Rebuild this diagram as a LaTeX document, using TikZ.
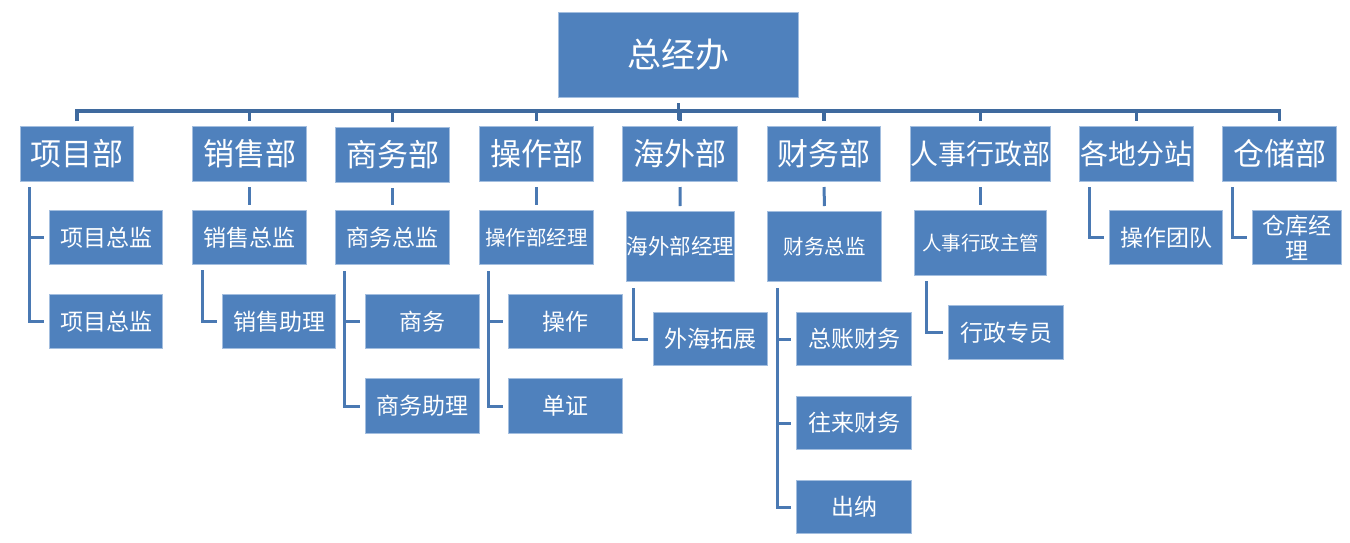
\documentclass[tikz,border=0pt]{standalone}
\usepackage{fontspec}
\setmainfont{Noto Sans CJK SC}
\usetikzlibrary{calc}
\definecolor{boxfill}{HTML}{4F81BD}
\definecolor{boxline}{HTML}{A3BEDF}
\definecolor{busc}{HTML}{3F6A9E}
\definecolor{connc}{HTML}{4A79B3}
\tikzset{
  obox/.style n args={2}{draw=boxline, fill=boxfill, text=white, line width=1pt,
    anchor=north west, inner sep=0pt, minimum width=#1pt, minimum height=#2pt, align=center},
  rootf/.style={font=\fontsize{34}{38}\selectfont},
  deptf/.style={font=\fontsize{31}{34}\selectfont},
  deptsf/.style={font=\fontsize{28}{32}\selectfont},
  subf/.style={font=\fontsize{23}{26}\selectfont},
  subsf/.style={font=\fontsize{20.5}{24}\selectfont},
  busline/.style={draw=busc, line width=3.2pt},
  conn/.style={draw=connc, line width=3pt},
}
\begin{document}
\begin{tikzpicture}[x=1pt,y=-1pt]
\useasboundingbox (0,0) rectangle (1350,542);
% root
\node[obox={240}{85}, rootf] (root) at (558,12) {总经办};
% departments
\node[obox={113}{55}, deptf] (d1) at (20,126) {项目部};
\node[obox={114}{55}, deptf] (d2) at (192,126) {销售部};
\node[obox={114}{55}, deptf] (d3) at (335,127) {商务部};
\node[obox={114}{55}, deptf] (d4) at (479,126) {操作部};
\node[obox={115}{55}, deptf] (d5) at (622,126) {海外部};
\node[obox={113}{55}, deptf] (d6) at (767,126) {财务部};
\node[obox={140}{55}, deptsf] (d7) at (910,126) {人事行政部};
\node[obox={114}{55}, deptsf] (d8) at (1079,126) {各地分站};
\node[obox={114}{55}, deptf] (d9) at (1222,126) {仓储部};
% level 2
\node[obox={113}{54}, subf] (a1) at (49,210) {项目总监};
\node[obox={113}{54}, subf] (a2) at (49,294) {项目总监};
\node[obox={114}{54}, subf] (b1) at (192,210) {销售总监};
\node[obox={113}{54}, subf] (b2) at (222,294) {销售助理};
\node[obox={114}{54}, subf] (c1) at (335,210) {商务总监};
\node[obox={114}{54}, subf] (c2) at (365,294) {商务};
\node[obox={114}{55}, subf] (c3) at (365,378) {商务助理};
\node[obox={114}{54}, subsf] (e1) at (479,210) {操作部经理};
\node[obox={114}{54}, subf] (e2) at (508,294) {操作};
\node[obox={114}{55}, subf] (e3) at (508,378) {单证};
\node[obox={107}{70}, font=\fontsize{21.5}{24}\selectfont] (f1) at (626,211) {海外部经理};
\node[obox={114}{53}, subf] (f2) at (653,312) {外海拓展};
\node[obox={114}{70}, subsf] (g1) at (767,211) {财务总监};
\node[obox={115}{53}, subf] (g2) at (796,312) {总账财务};
\node[obox={115}{53}, subf] (g3) at (796,396) {往来财务};
\node[obox={115}{53}, subf] (g4) at (796,480) {出纳};
\node[obox={132}{65}, font=\fontsize{19.5}{22}\selectfont] (h1) at (914,210) {人事行政主管};
\node[obox={115}{54}, subf] (h2) at (948,305) {行政专员};
\node[obox={113}{54}, subf] (i1) at (1109,210) {操作团队};
\node[obox={89}{54}, font=\fontsize{23}{25}\selectfont] (j1) at (1252,210) {仓库经\\理};
% bus
\coordinate (bus) at (0,111);
\draw[busline, shorten <=5pt, shorten >=5pt] (d1.north) -- (d1.north |- bus) -- (d9.north |- bus) -- (d9.north);
\foreach \d in {d2,d3,d4,d5,d6,d7,d8}{
  \draw[busline, shorten >=5pt] (\d.north |- bus) -- (\d.north);
}
\draw[busline, shorten <=5pt] (root.south) -- ($(root.south |- bus)+(0,9)$);
% centre stems
\foreach \p/\c in {d2/b1,d3/c1,d4/e1,d5/f1,d6/g1,d7/h1}{
  \draw[conn, shorten <=5pt, shorten >=5pt] (\p.south) -- (\c.north);
}
% elbows
\coordinate (ea) at ($(d1.south west)+(9,5)$);
\foreach \c in {a1,a2}{\draw[conn, shorten >=5pt] (ea) |- (\c.west);}
\coordinate (eb) at ($(b1.south west)+(10,5)$);
\draw[conn, shorten >=5pt] (eb) |- (b2.west);
\coordinate (ec) at ($(c1.south west)+(9,6)$);
\foreach \c in {c2,c3}{\draw[conn, shorten >=5pt] (ec) |- (\c.west);}
\coordinate (ee) at ($(e1.south west)+(9,6)$);
\foreach \c in {e2,e3}{\draw[conn, shorten >=5pt] (ee) |- (\c.west);}
\coordinate (ef) at ($(f1.south west)+(7,6)$);
\draw[conn, shorten >=5pt] (ef) |- (f2.west);
\coordinate (eg) at ($(g1.south west)+(10,6)$);
\foreach \c in {g2,g3,g4}{\draw[conn, shorten >=5pt] (eg) |- (\c.west);}
\coordinate (eh) at ($(h1.south west)+(12,5)$);
\draw[conn, shorten >=5pt] (eh) |- (h2.west);
\coordinate (ei) at ($(d8.south west)+(10,5)$);
\draw[conn, shorten >=5pt] (ei) |- (i1.west);
\coordinate (ej) at ($(d9.south west)+(10,5)$);
\draw[conn, shorten >=5pt] (ej) |- (j1.west);
\end{tikzpicture}
\end{document}
